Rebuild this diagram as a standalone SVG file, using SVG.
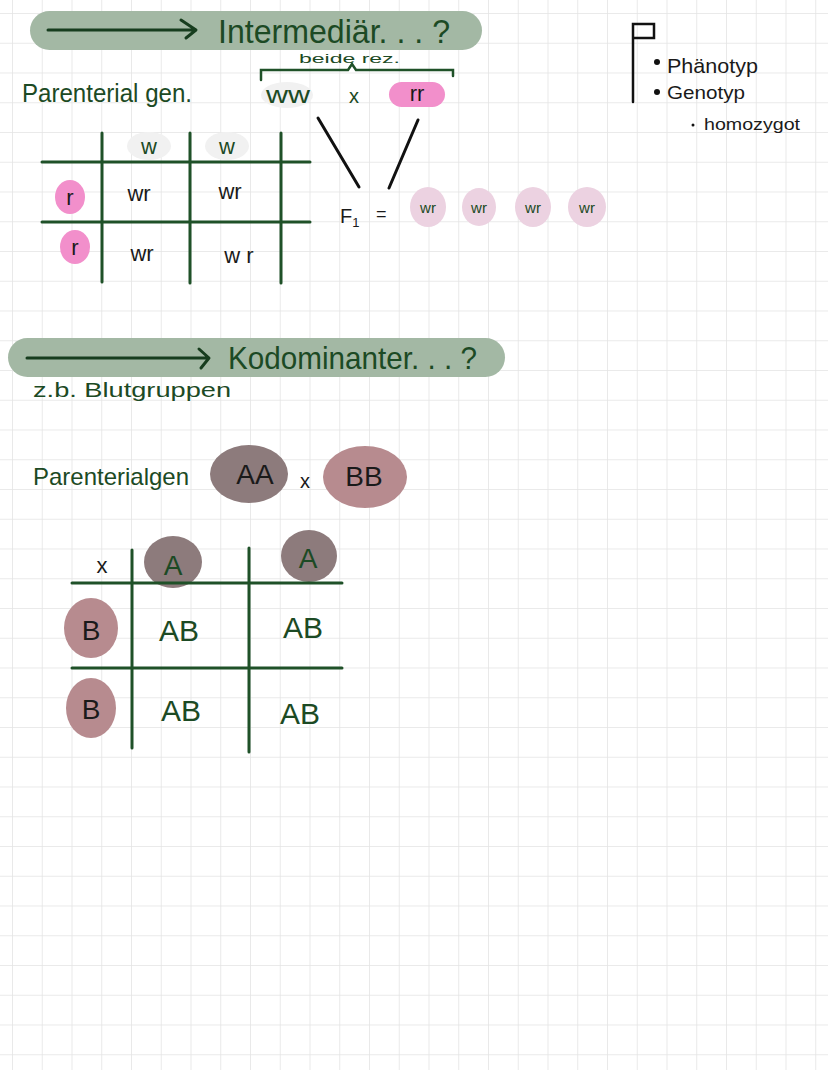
<svg xmlns="http://www.w3.org/2000/svg" width="828" height="1070" viewBox="0 0 828 1070">
<defs>
<pattern id="grid" patternUnits="userSpaceOnUse" x="12" y="13" width="29.75" height="29.75">
<path d="M0 0 H29.75 M0 0 V29.75" fill="none" stroke="#e4e4e4" stroke-width="1.6"/>
</pattern>
<style>
.hw{font-family:"Liberation Sans","DejaVu Sans",sans-serif;}
.g{fill:#1c4a24;}
.k{fill:#1a1a1a;}
.banner{fill:#a3b8a4;}
.gl{stroke:#1f5128;stroke-width:3;stroke-linecap:round;fill:none;}
.bl{stroke:#111;stroke-width:3;stroke-linecap:round;fill:none;}
.arrow{stroke:#173d1e;stroke-width:3;stroke-linecap:round;stroke-linejoin:round;fill:none;}
.pink{fill:#f28fcb;}
.lpink{fill:#ecd2e1;}
.mauve{fill:#8d7b7c;}
.rose{fill:#b78b8f;}
</style>
</defs>
<rect width="828" height="1070" fill="#ffffff"/>
<rect width="828" height="1070" fill="url(#grid)"/>

<g id="banner-intermediaer">
<rect class="banner" x="30" y="11" width="452" height="39" rx="19.5"/>
<path class="arrow" d="M48 30 H195 M181 20 L196 30 L186 38"/>
<text class="hw g" x="218" y="43" font-size="33" textLength="232" lengthAdjust="spacingAndGlyphs">Intermediär. . . ?</text>
</g>

<g id="beide-rez">
<text class="hw g" x="299" y="63" font-size="13" textLength="101" lengthAdjust="spacingAndGlyphs">beide  rez.</text>
<path class="gl" style="stroke-width:2.5" d="M261 80 V70 H348 L352 64 L356 70 H453 V76"/>
</g>

<g id="parental-1">
<text class="hw g" x="22" y="102" font-size="25" textLength="170" lengthAdjust="spacingAndGlyphs">Parenterial gen.</text>
<ellipse cx="287" cy="95" rx="26" ry="13" fill="#f1f1f1"/>
<text class="hw g" x="266" y="103" font-size="24" textLength="44" lengthAdjust="spacingAndGlyphs">ww</text>
<text class="hw g" x="349" y="103" font-size="20">x</text>
<rect class="pink" x="389" y="82" width="56" height="25" rx="12.5"/>
<text class="hw k" x="417" y="101" font-size="22" text-anchor="middle">rr</text>
</g>

<g id="connectors">
<path class="bl" d="M318 118 L359 187 M418 120 L389 188"/>
</g>

<g id="punnett-1">
<path class="gl" d="M102 133 V282 M190 133 V283 M281 133 V283 M42 162 H310 M42 222 H310"/>
<ellipse cx="149" cy="146" rx="22" ry="14" fill="#f1f1f1"/>
<ellipse cx="227" cy="146" rx="22" ry="14" fill="#f1f1f1"/>
<text class="hw g" x="149" y="154" font-size="22" text-anchor="middle">w</text>
<text class="hw g" x="227" y="154" font-size="22" text-anchor="middle">w</text>
<ellipse class="pink" cx="70" cy="197" rx="15" ry="17"/>
<ellipse class="pink" cx="75" cy="247" rx="15" ry="17"/>
<text class="hw k" x="70" y="205" font-size="22" text-anchor="middle">r</text>
<text class="hw k" x="75" y="255" font-size="22" text-anchor="middle">r</text>
<text class="hw k" x="139" y="201" font-size="22" text-anchor="middle">wr</text>
<text class="hw k" x="230" y="199" font-size="22" text-anchor="middle">wr</text>
<text class="hw k" x="142" y="261" font-size="22" text-anchor="middle">wr</text>
<text class="hw k" x="239" y="263" font-size="22" text-anchor="middle">w r</text>
</g>

<g id="f1">
<text class="hw k" x="340" y="223" font-size="20">F<tspan font-size="13" dy="4">1</tspan></text>
<text class="hw k" x="376" y="220" font-size="18">=</text>
<ellipse class="lpink" cx="428" cy="207" rx="18" ry="20"/>
<ellipse class="lpink" cx="479" cy="207" rx="17" ry="19"/>
<ellipse class="lpink" cx="533" cy="207" rx="18" ry="20"/>
<ellipse class="lpink" cx="587" cy="207" rx="19" ry="20"/>
<text class="hw g" x="428" y="213" font-size="15" text-anchor="middle">wr</text>
<text class="hw g" x="479" y="213" font-size="15" text-anchor="middle">wr</text>
<text class="hw g" x="533" y="213" font-size="15" text-anchor="middle">wr</text>
<text class="hw g" x="587" y="213" font-size="15" text-anchor="middle">wr</text>
</g>

<g id="note">
<path class="bl" style="stroke-width:2.5" d="M633 102 V24 H654 V38 H633"/>
<circle cx="657" cy="62" r="3" fill="#111"/>
<circle cx="657" cy="92" r="3" fill="#111"/>
<circle cx="693" cy="125" r="1.5" fill="#111"/>
<text class="hw k" x="667" y="73" font-size="21" textLength="91" lengthAdjust="spacingAndGlyphs">Phänotyp</text>
<text class="hw k" x="667" y="99" font-size="19" textLength="78" lengthAdjust="spacingAndGlyphs">Genotyp</text>
<text class="hw k" x="704" y="130" font-size="16" textLength="96" lengthAdjust="spacingAndGlyphs">homozygot</text>
</g>

<g id="banner-kodominant">
<rect class="banner" x="8" y="338" width="497" height="39" rx="19.5"/>
<path class="arrow" d="M27 358 H208 M199 349 L209 358 L201 368"/>
<text class="hw g" x="228" y="369" font-size="32" textLength="249" lengthAdjust="spacingAndGlyphs">Kodominanter. . . ?</text>
</g>

<g id="beispiel">
<text class="hw g" x="33" y="397" font-size="21" textLength="198" lengthAdjust="spacingAndGlyphs">z.b.  Blutgruppen</text>
</g>

<g id="parental-2">
<text class="hw g" x="33" y="485" font-size="24" textLength="156" lengthAdjust="spacingAndGlyphs">Parenterialgen</text>
<ellipse class="mauve" cx="249" cy="474" rx="39" ry="29"/>
<text class="hw k" x="255" y="484" font-size="28" text-anchor="middle">AA</text>
<text class="hw k" x="300" y="488" font-size="20">x</text>
<ellipse class="rose" cx="365" cy="477" rx="42" ry="31"/>
<text class="hw k" x="364" y="486" font-size="28" text-anchor="middle">BB</text>
</g>

<g id="punnett-2">
<ellipse class="mauve" cx="173" cy="562" rx="29" ry="26"/>
<ellipse class="mauve" cx="309" cy="556" rx="28" ry="26"/>
<ellipse class="rose" cx="91" cy="628" rx="27" ry="30"/>
<ellipse class="rose" cx="91" cy="708" rx="25" ry="30"/>
<path class="gl" d="M132 550 V748 M249 548 V752 M72 583 H342 M72 668 H342"/>
<text class="hw k" x="102" y="573" font-size="22" text-anchor="middle">x</text>
<text class="hw g" x="173" y="575" font-size="28" text-anchor="middle">A</text>
<text class="hw g" x="308" y="568" font-size="28" text-anchor="middle">A</text>
<text class="hw k" x="91" y="640" font-size="28" text-anchor="middle">B</text>
<text class="hw k" x="91" y="719" font-size="28" text-anchor="middle">B</text>
<text class="hw g" x="179" y="641" font-size="30" text-anchor="middle">AB</text>
<text class="hw g" x="303" y="638" font-size="30" text-anchor="middle">AB</text>
<text class="hw g" x="181" y="721" font-size="30" text-anchor="middle">AB</text>
<text class="hw g" x="300" y="724" font-size="30" text-anchor="middle">AB</text>
</g>
</svg>
